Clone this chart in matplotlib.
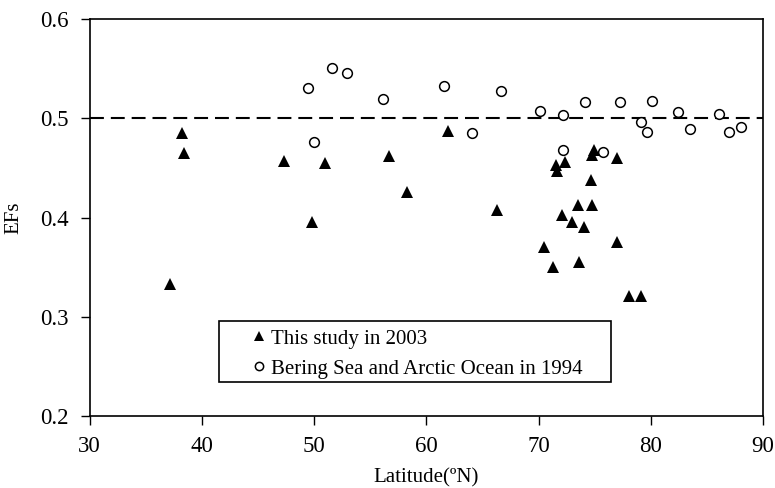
import matplotlib
matplotlib.use("Agg")
import matplotlib.pyplot as plt
from matplotlib.patches import Rectangle

plt.rcParams['font.family'] = ['Liberation Serif', 'DejaVu Serif']
plt.rcParams['lines.scale_dashes'] = False

# This study in 2003 (triangles)
lat_2003 = [37.2, 38.27, 38.41, 47.35, 49.79, 51.0, 56.67, 58.27, 61.9, 66.29,
            70.53, 71.3, 71.6, 71.69, 72.34, 72.13, 72.99, 73.56, 73.62, 74.06,
            74.72, 74.77, 74.95, 74.77, 77.0, 76.95, 78.07, 79.11]
ef_2003 = [0.333, 0.485, 0.4645, 0.4565, 0.3957, 0.4545, 0.4618, 0.4256, 0.487, 0.4078,
           0.3705, 0.3497, 0.4533, 0.4465, 0.4555, 0.4024, 0.3957, 0.4125, 0.3548, 0.3906,
           0.4374, 0.4628, 0.468, 0.4125, 0.3755, 0.4601, 0.3208, 0.3208]

# Bering Sea and Arctic Ocean in 1994 (open circles)
lat_1994 = [49.48, 50.0, 51.57, 52.96, 56.11, 61.6, 64.09, 66.67, 70.14, 72.19,
            72.19, 74.18, 75.75, 77.24, 79.17, 79.7, 80.09, 82.43, 83.47, 86.08,
            86.97, 88.01]
ef_1994 = [0.530, 0.476, 0.551, 0.546, 0.519, 0.532, 0.485, 0.527, 0.507, 0.503,
           0.468, 0.516, 0.4655, 0.5165, 0.4964, 0.4857, 0.5175, 0.506, 0.489, 0.504,
           0.486, 0.491]

ref_level = 0.5
x_ticks = [30, 40, 50, 60, 70, 80, 90]
y_ticks = [0.2, 0.3, 0.4, 0.5, 0.6]

W, H = 775, 488
fig = plt.figure(figsize=(W/100, H/100), dpi=100)
ax = fig.add_axes([89.5/W, 1-416/H, (763-89.5)/W, (416-19)/H])

ax.plot([30, 90], [ref_level, ref_level], color='black', lw=1.5,
        linestyle=(0, (10, 5)), zorder=1)
ax.plot(lat_2003, ef_2003, linestyle='none', marker='^', markersize=8.5,
        color='black', markeredgewidth=0, label='This study in 2003', zorder=3)
ax.plot(lat_1994, ef_1994, linestyle='none', marker='o', markersize=7,
        markerfacecolor='white', markeredgecolor='black', markeredgewidth=1.1,
        label='Bering Sea and Arctic Ocean in 1994', zorder=3)

ax.set_xlim(30, 90)
ax.set_ylim(0.2, 0.6)
ax.set_xticks(x_ticks)
ax.set_xticklabels([str(v) for v in x_ticks])
ax.set_yticks(y_ticks)
ax.set_yticklabels([f"{v:.1f}" for v in y_ticks])
ax.tick_params(direction='out', length=6.7, width=1, labelsize=16.5)
ax.tick_params(axis='x', pad=8)
ax.tick_params(axis='y', pad=8)
for s in ax.spines.values():
    s.set_linewidth(1.2)
    s.set_color('black')

ax.set_xlabel('Latitude(ºN)', fontsize=15, labelpad=8)
ax.set_ylabel('EFs', fontsize=15, labelpad=12)

# legend frame box
ax.add_patch(Rectangle((219/W, 1-382/H), (611-219)/W, (382-321)/H,
                       transform=fig.transFigure, facecolor='white',
                       edgecolor='black', linewidth=1.2, zorder=4,
                       clip_on=False))
leg = ax.legend(loc='upper left', bbox_to_anchor=(251/W, 1-329/H),
                bbox_transform=fig.transFigure, fontsize=15, frameon=False,
                handlelength=0.8, handletextpad=0.18, borderpad=0,
                labelspacing=0.5, borderaxespad=0, markerscale=0.85)
leg.set_zorder(5)

fig.savefig('out.png', dpi=100)
